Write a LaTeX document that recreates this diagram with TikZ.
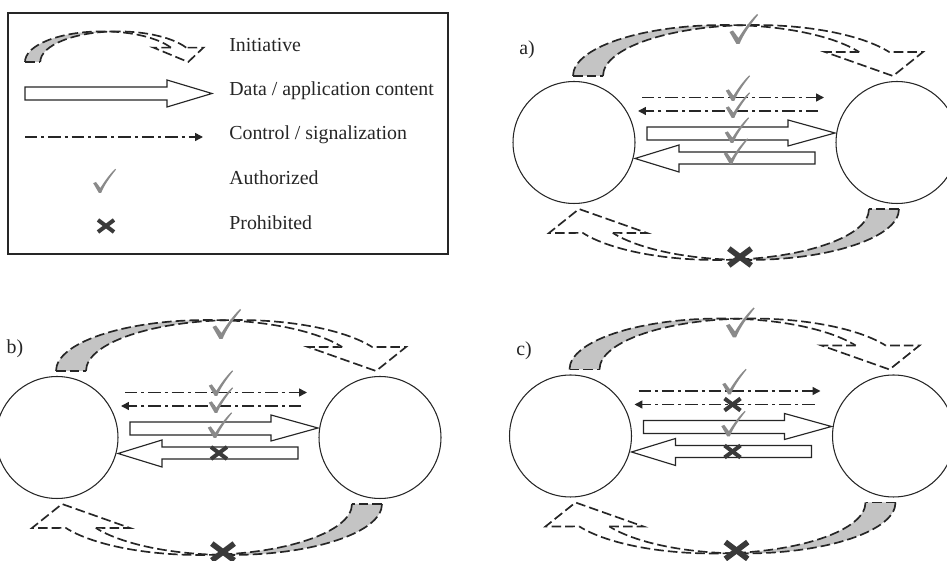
\documentclass[tikz,border=0pt]{standalone}
\usepackage{fontspec}
\setmainfont{Liberation Serif}
\usetikzlibrary{arrows.meta}

\definecolor{ink}{HTML}{262626}
\definecolor{basegray}{HTML}{C4C4C4}
\definecolor{okgray}{HTML}{8A8A8A}
\definecolor{nogray}{HTML}{3A3A3A}

\tikzset{
  station/.style={circle, draw=ink, line width=0.6pt, minimum size=2.44cm, inner sep=0pt},
  initline/.style={draw=ink, line width=0.95pt, dash pattern=on 5.5pt off 2.3pt},
  ctrlline/.style={draw=ink, line width=0.85pt,
    dash pattern=on 7pt off 2.3pt on 1.7pt off 2.3pt,
    -{Triangle[length=4.5pt,width=4.5pt]}},
  databox/.style={draw=ink, line width=0.65pt, fill=white},
  txt/.style={font=\fontsize{11.3}{13}\selectfont, text=ink, inner sep=0pt},
  % grey tick: authorized
  pics/okmark/.style={code={
    \fill[okgray] (-8.5,11) -- (-5,12.5) -- (0.5,5)
      .. controls (6,14) and (12,22) .. (19,29) -- (20,28)
      .. controls (12,18) and (5,8) .. (1.5,-1) -- (-1.5,-1) -- cycle;}},
  % dark cross: prohibited
  pics/nomark/.style={code={
    \fill[nogray] (-9.2,-4.4) -- (6.8,7.6) -- (9.2,4.4) -- (-6.8,-7.6) -- cycle;
    \fill[nogray] (-6.8,7.6) -- (9.2,-4.4) -- (6.8,-7.6) -- (-9.2,4.4) -- cycle;}},
  % curved initiative arrow, grey at its base
  pics/initiative/.style={code={
    \fill[basegray] (-163,66.5) arc[start angle=180, end angle=84.3, x radius=152, y radius=51]
      arc[start angle=95.7, end angle=180, x radius=152, y radius=51] -- cycle;
    \draw[initline] (-163,66.5) arc[start angle=180, end angle=28, x radius=152, y radius=51];
    \draw[initline] (-133,66.5) arc[start angle=180, end angle=28, x radius=152, y radius=51];
    \draw[initline] (-163,66.5) -- (-133,66.5);
    \draw[initline] (123.2,90.4) -- (89,90.5) -- (157,66.5) -- (187,90.5) -- (153.2,90.4);}},
}

\newcommand\mkok[2]{\pic[scale=0.85] at #1 {okmark};}
\newcommand\mkno[2]{\pic at #2 {nomark};}

% #1 panel letter, #2 centre, #3-#6 marks on the four flows, #7 letter position
\newcommand\drawpanel[7]{%
  \begin{scope}[shift={#2}]
    \node[station] (#1-left) at (-162,0) {};
    \node[station] (#1-right) at (161,0) {};
    \pic {initiative};
    \pic[rotate=180] {initiative};
    \pic at (2,99.5) {okmark};
    \pic[scale=1.4] at (4,-114.5) {nomark};
    \draw[ctrlline] (-94,45) -- (88,45);
    \draw[ctrlline] (82,31.5) -- (-98,31.5);
    \draw[databox] (-89,15.5) -- (52,15.5) -- (52,22.5) -- (99,9.5)
      -- (52,-3.5) -- (52,2.5) -- (-89,2.5) -- cycle;
    \draw[databox] (79,-9.5) -- (-57,-9.5) -- (-57,-2.5) -- (-101,-16)
      -- (-57,-29.5) -- (-57,-21.5) -- (79,-21.5) -- cycle;
    \csname mk#3\endcsname{(-3,42.5)}{(0,45)}
    \csname mk#4\endcsname{(-3,25.5)}{(0,31.5)}
    \csname mk#5\endcsname{(-4,0.5)}{(0,9)}
    \csname mk#6\endcsname{(-5,-20.5)}{(0,-15.5)}
    \node[txt] (#1-tag) at #7 {#1)};
  \end{scope}}

\begin{document}
\begin{tikzpicture}[x=0.02cm, y=0.02cm]
  \useasboundingbox (0,0) rectangle (947,561);
  \fill[white] (0,0) rectangle (947,561);

  % legend
  \draw[ink, line width=0.7pt] (8,307) rectangle (448,548);
  \pic[xscale=0.51, yscale=0.6] at (108.1,459.1) {initiative};
  \draw[databox] (25,474) -- (167,474) -- (167,481) -- (212,467.5)
    -- (167,454) -- (167,461) -- (25,461) -- cycle;
  \draw[ctrlline] (25,424) -- (203,424);
  \pic[scale=0.8] at (100,369) {okmark};
  \pic at (106,335) {nomark};
  \node[txt, anchor=base west] (lg-init) at (229,509) {Initiative};
  \node[txt, anchor=base west] (lg-data) at (229,465) {Data / application content};
  \node[txt, anchor=base west] (lg-ctrl) at (229,421) {Control / signalization};
  \node[txt, anchor=base west] (lg-ok) at (229,376) {Authorized};
  \node[txt, anchor=base west] (lg-no) at (229,331) {Prohibited};

  % the three cases
  \drawpanel{a}{(736,418.5)}{ok}{ok}{ok}{ok}{(-209,92.5)}
  \drawpanel{b}{(219,123.5)}{ok}{ok}{ok}{no}{(-204,88.5)}
  \drawpanel{c}{(732.5,125)}{ok}{no}{ok}{no}{(-208.5,85)}
\end{tikzpicture}
\end{document}
